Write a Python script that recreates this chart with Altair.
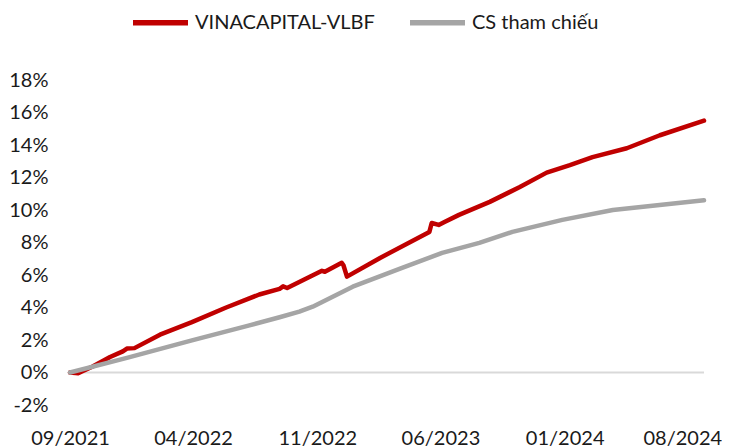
import altair as alt
import pandas as pd

# --- data (percent values) ---
vlbf_dates = ["2021-09-01", "2021-09-15", "2021-10-10", "2021-11-09", "2021-12-01",
              "2021-12-08", "2021-12-21", "2022-02-03", "2022-03-30", "2022-05-28",
              "2022-07-24", "2022-08-28", "2022-09-03", "2022-09-10", "2022-11-09",
              "2022-11-14", "2022-12-13", "2022-12-16", "2022-12-22", "2023-02-17",
              "2023-05-13", "2023-05-17", "2023-05-29", "2023-06-08", "2023-07-03",
              "2023-08-25", "2023-10-15", "2023-12-01", "2024-01-10", "2024-02-18",
              "2024-04-17", "2024-06-13", "2024-08-28"]
vlbf_values = [0.00, -0.05, 0.37, 0.95, 1.30,
               1.47, 1.50, 2.33, 3.10, 4.00,
               4.80, 5.15, 5.30, 5.20, 6.26,
               6.20, 6.75, 6.60, 5.90, 7.05,
               8.65, 9.20, 9.08, 9.26, 9.70,
               10.50, 11.40, 12.30, 12.76, 13.25,
               13.80, 14.60, 15.50]

bench_dates = ["2021-09-01", "2021-12-08", "2022-03-30", "2022-07-07", "2022-08-28",
               "2022-10-01", "2022-10-24", "2023-01-01", "2023-03-27", "2023-06-04",
               "2023-08-07", "2023-10-03", "2023-12-28", "2024-03-24", "2024-08-28"]
bench_values = [0.00, 0.90, 1.98, 2.90, 3.40,
                3.75, 4.05, 5.28, 6.44, 7.36,
                7.98, 8.65, 9.39, 10.00, 10.60]

series_names = ["VINACAPITAL-VLBF", "CS tham chiếu"]
series_colors = ["#C00000", "#A5A5A5"]
tick_dates = ["2021-09-01", "2022-04-01", "2022-11-01", "2023-06-01", "2024-01-01", "2024-08-01"]
y_ticks = [-0.02, 0.0, 0.02, 0.04, 0.06, 0.08, 0.10, 0.12, 0.14, 0.16, 0.18]

df = pd.concat([
    pd.DataFrame({"date": vlbf_dates, "value": [v / 100 for v in vlbf_values], "series": series_names[0]}),
    pd.DataFrame({"date": bench_dates, "value": [v / 100 for v in bench_values], "series": series_names[1]}),
])


def dt(s):
    y, m, d = (int(p) for p in s.split("-"))
    return alt.DateTime(year=y, month=m, date=d, utc=True)


FONT = "Lato"
TXT = "#1a1a1a"

x_enc = alt.X(
    "date:T",
    scale=alt.Scale(type="utc", domain=[dt("2021-09-01"), dt("2024-08-28")]),
    axis=alt.Axis(values=[dt(t) for t in tick_dates], format="%m/%Y", title=None,
                  domain=False, ticks=False, grid=False, labelPadding=23,
                  labelFontSize=20, labelFont=FONT, labelColor=TXT, labelFlush=False,
                  labelOverlap=False,
                  labelOffset={"condition": {"test": "datum.index == 1", "value": -6}, "value": 0}),
)
y_enc = alt.Y(
    "value:Q",
    scale=alt.Scale(domain=[-0.02, 0.18], nice=False, zero=False),
    axis=alt.Axis(values=y_ticks, format=".0%", title=None, domain=False, ticks=False,
                  grid=False, labelPadding=22, labelFontSize=20, labelFont=FONT,
                  labelColor=TXT, labelOverlap=False, labelBound=False,
                  labelExpr="replace(datum.label, '\u2212', '-')"),
)

zero = alt.Chart(pd.DataFrame({"value": [0.0]})).mark_rule(color="#D9D9D9", strokeWidth=2).encode(
    y=y_enc
)

lines = alt.Chart(df).mark_line(strokeWidth=4.5, strokeCap="round", strokeJoin="round").encode(
    x=x_enc,
    y=y_enc,
    color=alt.Color(
        "series:N",
        scale=alt.Scale(domain=series_names, range=series_colors),
        sort=series_names,
        legend=alt.Legend(
            title=None, orient="none", direction="horizontal", legendX=60, legendY=-88,
            symbolType="stroke", symbolSize=3025, symbolStrokeWidth=5.5,
            labelFontSize=20, labelFont=FONT, labelColor=TXT, labelOffset=4,
            labelLimit=0, columnPadding=24,
        ),
    ),
    order=alt.Order("series:N"),
)

chart = alt.layer(zero, lines).properties(
    width=634, height=325,
    autosize=alt.AutoSizeParams(type="none"),
    padding={"left": 62, "top": 72, "right": 18, "bottom": 48},
    background="white",
).configure_view(stroke=None).configure_axis(labelOverlap=False)

chart.save("out.html", embed_options={"renderer": "svg", "actions": False})
